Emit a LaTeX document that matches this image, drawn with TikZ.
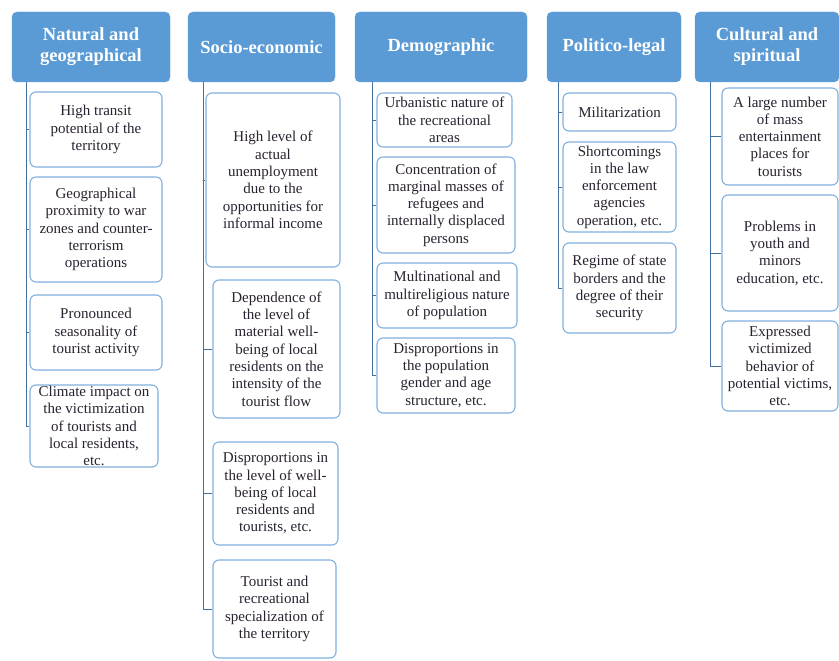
\documentclass[tikz,border=0pt]{standalone}
\usepackage{fontspec}
\setmainfont{Liberation Serif}
\usepackage{xcolor}
\usepackage{tikz}
\usetikzlibrary{positioning}
\definecolor{hdrblue}{HTML}{5B9BD5}
\definecolor{edgeblue}{HTML}{7FB0DE}
\definecolor{linkblue}{HTML}{41719C}
\definecolor{itemtext}{HTML}{2A2230}

\begin{document}
\begin{tikzpicture}[x=1pt,y=-1pt,
hdr/.style={draw=hdrblue,fill=hdrblue,rounded corners=5pt,inner sep=0pt,align=center,
    text=white,font=\fontsize{18.5}{21}\selectfont\bfseries,minimum height=70},
item/.style={draw=edgeblue,line width=1.1pt,fill=white,rounded corners=6pt,inner sep=0pt,
    align=center,text=itemtext,font=\fontsize{15}{17.3}\selectfont},
link/.style={draw=linkblue,line width=0.9pt}]
\useasboundingbox (0,0) rectangle (839,661);

\node (nat) [hdr,minimum width=158] at (91,47) {Natural and\\geographical};
\node (soc) [hdr,minimum width=147] at (261.5,47) {Socio-economic};
\node (dem) [hdr,minimum width=172] at (441,47) {Demographic};
\node (pol) [hdr,minimum width=134] at (614,47) {Politico-legal};
\node (cul) [hdr,minimum width=144] at (767,47) {Cultural and\\spiritual};

\node (nat1) [item,minimum width=132,minimum height=75] at (96,129.5)
    {High transit\\potential of the\\territory};
\node (nat2) [item,minimum width=132,minimum height=105] at (96,229.5)
    {Geographical\\proximity to war\\zones and counter-\\terrorism\\operations};
\node (nat3) [item,minimum width=132,minimum height=75] at (96,332.5)
    {Pronounced\\seasonality of\\tourist activity};
\node (nat4) [item,minimum width=128,minimum height=82] at (94,426)
    {Climate impact on\\the victimization\\of tourists and\\local residents,\\etc.};

\node (soc1) [item,minimum width=134,minimum height=174] at (273,180)
    {High level of\\actual\\unemployment\\due to the\\opportunities for\\informal income};
\node (soc2) [item,minimum width=127,minimum height=138] at (276.5,349)
    {Dependence of\\the level of\\material well-\\being of local\\residents on the\\intensity of the\\tourist flow};
\node (soc3) [item,minimum width=125,minimum height=103] at (275.5,493.5)
    {Disproportions in\\the level of well-\\being of local\\residents and\\tourists, etc.};
\node (soc4) [item,minimum width=123,minimum height=98] at (274.5,609)
    {Tourist and\\recreational\\specialization of\\the territory};

\node (dem1) [item,minimum width=135,minimum height=54] at (444.5,120)
    {Urbanistic nature of\\the recreational\\areas};
\node (dem2) [item,minimum width=138,minimum height=96] at (446,205)
    {Concentration of\\marginal masses of\\refugees and\\internally displaced\\persons};
\node (dem3) [item,minimum width=140,minimum height=65] at (447,295.5)
    {Multinational and\\multireligious nature\\of population};
\node (dem4) [item,minimum width=138,minimum height=75] at (446,375.5)
    {Disproportions in\\the population\\gender and age\\structure, etc.};

\node (pol1) [item,minimum width=113,minimum height=38] at (619.5,112)
    {Militarization};
\node (pol2) [item,minimum width=113,minimum height=90] at (619.5,187)
    {Shortcomings\\in the law\\enforcement\\agencies\\operation, etc.};
\node (pol3) [item,minimum width=113,minimum height=90] at (619.5,288)
    {Regime of state\\borders and the\\degree of their\\security};

\node (cul1) [item,minimum width=116,minimum height=97] at (780,136.5)
    {A large number\\of mass\\entertainment\\places for\\tourists};
\node (cul2) [item,minimum width=116,minimum height=116] at (780,253)
    {Problems in\\youth and\\minors\\education, etc.};
\node (cul3) [item,minimum width=116,minimum height=90] at (780,366)
    {Expressed\\victimized\\behavior of\\potential victims,\\etc.};

\coordinate (natT) at (nat.south west -| 26,0);
\coordinate (socT) at (soc.south west -| 203,0);
\coordinate (demT) at (dem.south west -| 372,0);
\coordinate (polT) at (pol.south west -| 558,0);
\coordinate (culT) at (cul.south west -| 710,0);

\draw[link] (natT) |- (nat4.west);
\draw[link] (socT) |- (soc4.west);
\draw[link] (demT) |- (dem4.west);
\draw[link] (polT) |- (pol3.west);
\draw[link] (culT) |- (cul3.west);

\foreach \b in {nat1,nat2,nat3}
    \draw[link] (\b.west) -- (\b.west -| natT);
\foreach \b in {soc1,soc2,soc3}
    \draw[link] (\b.west) -- (\b.west -| socT);
\foreach \b in {dem1,dem2,dem3}
    \draw[link] (\b.west) -- (\b.west -| demT);
\foreach \b in {pol1,pol2}
    \draw[link] (\b.west) -- (\b.west -| polT);
\foreach \b in {cul1,cul2}
    \draw[link] (\b.west) -- (\b.west -| culT);
\end{tikzpicture}
\end{document}
